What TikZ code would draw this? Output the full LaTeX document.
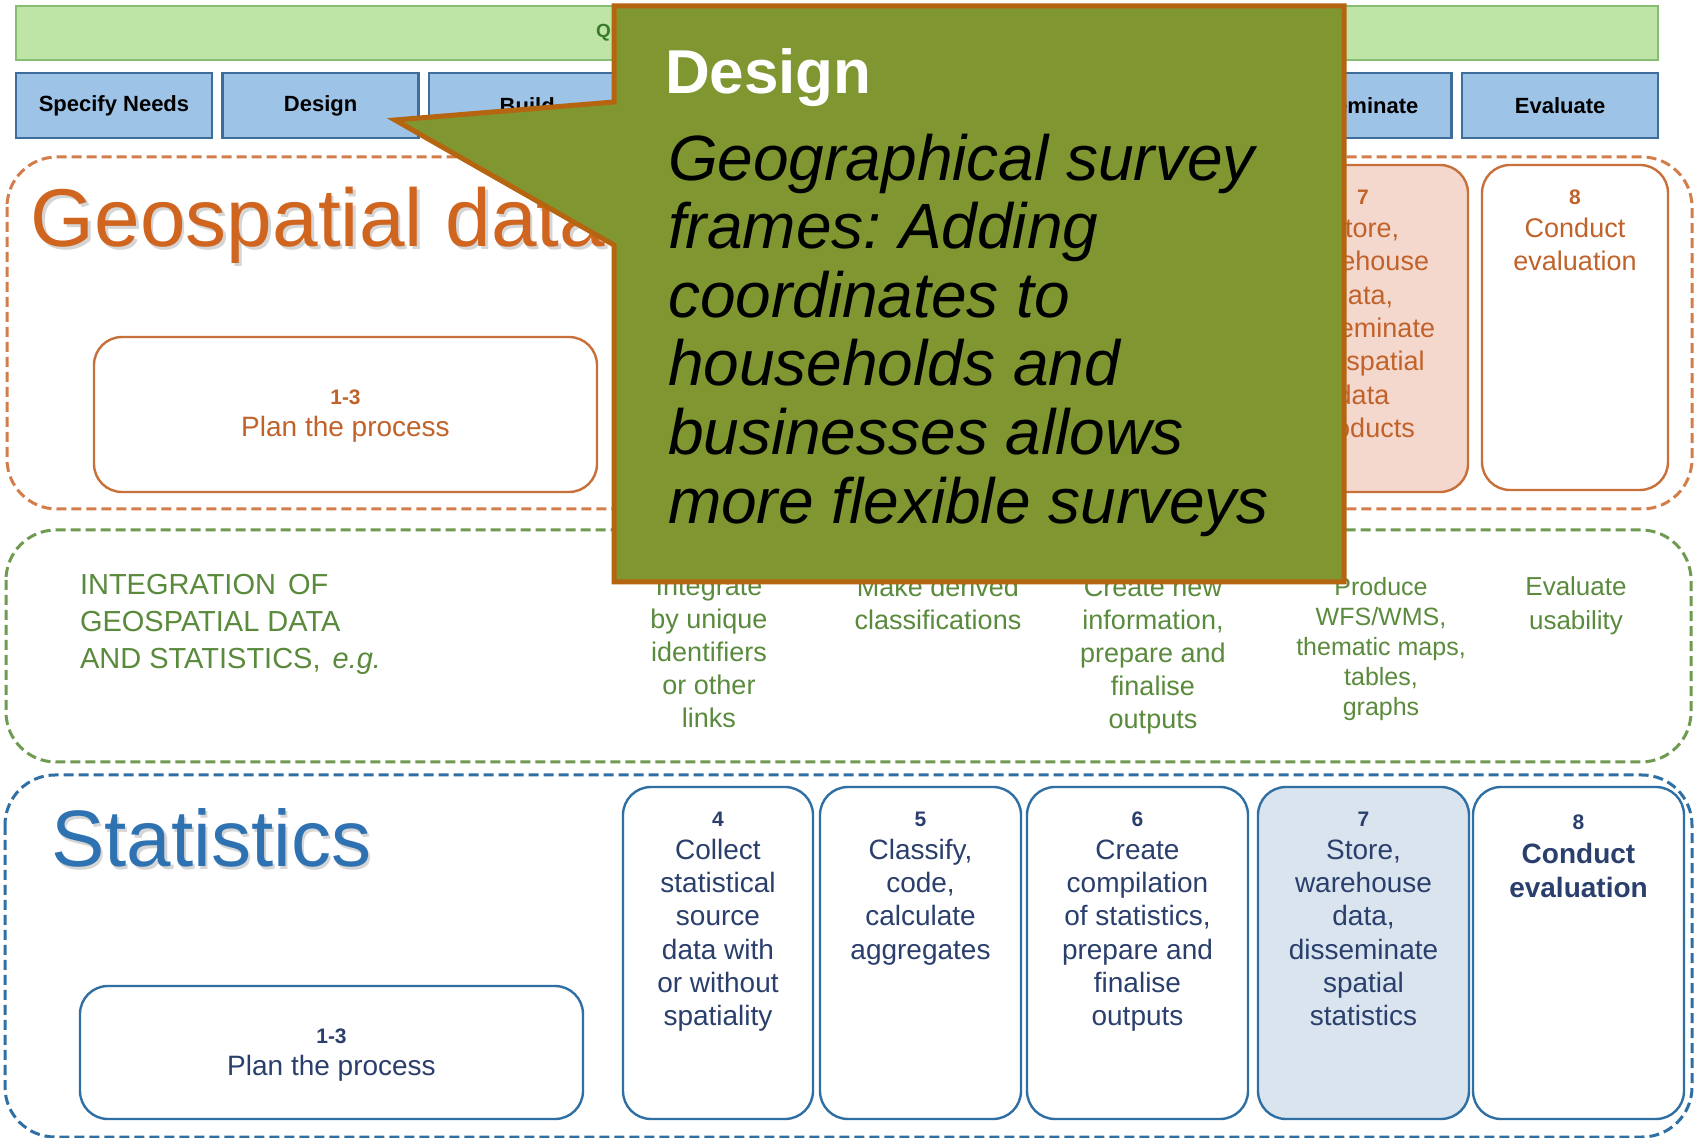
\documentclass[tikz,border=0pt]{standalone}
\usepackage{fontspec}
\setmainfont{Liberation Sans}
\frenchspacing
\newcommand\fsz[2]{\fontsize{#1}{#2}\selectfont}
\newcommand\numf{\bfseries\fontsize{10.5}{12}\selectfont}
\definecolor{geoText}{HTML}{CF651F}
\definecolor{geoLine}{HTML}{C8703A}
\definecolor{geoDash}{HTML}{D27D4A}
\definecolor{geoInner}{HTML}{C0622A}
\definecolor{geoDot}{HTML}{F4D8CE}
\definecolor{greenT}{HTML}{5A8A3C}
\definecolor{greenB}{HTML}{6E9B50}
\definecolor{blueB}{HTML}{2F6FA3}
\definecolor{statT}{HTML}{2E72B2}
\definecolor{navyT}{HTML}{2A3F6C}
\definecolor{statDot}{HTML}{D9E4EF}
\definecolor{phaseF}{HTML}{9DC3E6}
\definecolor{phaseB}{HTML}{3E6D9C}
\definecolor{barF}{HTML}{BEE5A6}
\definecolor{barB}{HTML}{86BD70}
\definecolor{barT}{HTML}{3C7A2C}
\definecolor{calF}{HTML}{7F9631}
\definecolor{calB}{HTML}{B5650F}
\begin{document}
\begin{tikzpicture}[x=0.5pt,y=-0.5pt,
  every node/.style={inner sep=0pt,outer sep=0pt},
  phasebox/.style={draw=phaseB,fill=phaseF,line width=1.2pt,minimum width=98pt,minimum height=32.5pt,font=\bfseries\fsz{11}{13},text=black},
  geodash/.style={draw=geoDash,line width=1.5pt,dash pattern=on 5pt off 2.5pt,rounded corners=25pt},
  greendash/.style={draw=greenB,line width=1.5pt,dash pattern=on 5pt off 2.5pt,rounded corners=25pt},
  bluedash/.style={draw=blueB,line width=1.5pt,dash pattern=on 5pt off 2.5pt,rounded corners=25pt},
  geobox/.style={draw=geoLine,fill=white,line width=1.2pt,rounded corners=14pt},
  statbox/.style={draw=blueB,fill=white,line width=1.2pt,rounded corners=14pt},
  geotext/.style={text=geoInner,font=\fsz{13.5}{16.65},align=center,anchor=north},
  plantext/.style={font=\fsz{14}{16},align=center,anchor=north},
  midtext/.style={text=greenT,font=\fsz{13.5}{16.5},align=center,anchor=north},
  stattext/.style={text=navyT,font=\fsz{14}{16.65},align=center,anchor=north},
  callout/.style={draw=calB,fill=calF,line width=2.5pt,line join=miter}
]
\useasboundingbox (0,0) rectangle (1694,1138);
\fill[white] (0,0) rectangle (1694,1138);

% top bar and phases
\node[draw=barB,fill=barF,line width=1.2pt,minimum width=821pt,minimum height=27pt] (bar) at (837,33) {};
\node[anchor=base west,text=barT,font=\bfseries\fsz{9.5}{11}] (bartext) at (596,38) {Quality Management / Metadata Management};
\node[phasebox] (p1) at (114,105.5) {Specify Needs};
\node[phasebox] (p2) at (320.6,105.5) {Design};
\node[phasebox] (p3) at (527.2,105.5) {Build};
\node[phasebox] (p7) at (1353.6,105.5) {Disseminate};
\node[phasebox] (p8) at (1560.2,105.5) {Evaluate};

% geospatial section
\draw[geodash] (7,157) rectangle (1692,509);
\node[anchor=base west,text=gray!55,opacity=0.6,font=\fsz{41}{46}] (geoshadow) at (33.5,250) {Geospatial data};
\node[anchor=base west,text=geoText,font=\fsz{41}{46}] (geotitle) at (31,247) {Geospatial data};
\node[geobox,minimum width=251.5pt,minimum height=77.5pt] (g13) at (345.5,414.5) {};
\node[plantext,text=geoInner] (g13t) at (345.5,382.6) {\strut{\numf 1-3}\\Plan the process};
\node[geobox,fill=geoDot,minimum width=105pt,minimum height=163.5pt] (g7) at (1363,328.5) {};
\node[geotext] (g7t) at (1363,181) {\strut{\numf 7}\\Store,\\warehouse\\data,\\disseminate\\geospatial\\data\\products};
\node[geobox,minimum width=93pt,minimum height=162.5pt] (g8) at (1575,327.5) {};
\node[geotext,font=\fsz{13.5}{16.5}] (g8t) at (1575,181) {\strut{\numf 8}\\Conduct\\evaluation};

% integration section
\draw[greendash] (6,530) rectangle (1691,762);
\node[anchor=north west,text=greenT,font=\fsz{14.5}{18.5},align=left] (intg) at (80,569) {\strut INTEGRATION\kern2pt\ OF\\GEOSPATIAL DATA\\AND STATISTICS,\kern2pt\ \textit{e.g.}};
\node[midtext] (m4) at (709,572.9) {\strut Integrate\\by unique\\identifiers\\or other\\links};
\node[midtext] (m5) at (938,573.9) {\strut Make derived\\classifications};
\node[midtext] (m6) at (1153,573.9) {\strut Create new\\information,\\prepare and\\finalise\\outputs};
\node[midtext,font=\fsz{12.5}{15}] (m7) at (1381,575) {\strut Produce\\WFS/WMS,\\thematic maps,\\tables,\\graphs};
\node[midtext,font=\fsz{13}{17}] (m8) at (1576,572) {\strut Evaluate\\usability};

% statistics section
\draw[bluedash] (5,775) rectangle (1692,1137);
\node[anchor=base west,text=gray!55,opacity=0.6,font=\fsz{40}{45}] (statshadow) at (53.5,870) {Statistics};
\node[anchor=base west,text=statT,font=\fsz{40}{45}] (stattitle) at (51,867) {Statistics};
\node[statbox,minimum width=251.5pt,minimum height=66.5pt] (s13) at (331.5,1052.5) {};
\node[plantext,text=navyT] (s13t) at (331.5,1020.6) {\strut{\numf 1-3}\\Plan the process};
\node[statbox,minimum width=95pt,minimum height=166pt] (s4) at (718,953) {};
\node[stattext] (s4t) at (718,802.7) {\strut{\numf 4}\\Collect\\statistical\\source\\data with\\or without\\spatiality};
\node[statbox,minimum width=100.5pt,minimum height=166pt] (s5) at (920.5,953) {};
\node[stattext] (s5t) at (920.5,802.7) {\strut{\numf 5}\\Classify,\\code,\\calculate\\aggregates};
\node[statbox,minimum width=110.5pt,minimum height=166pt] (s6) at (1137.5,953) {};
\node[stattext] (s6t) at (1137.5,802.7) {\strut{\numf 6}\\Create\\compilation\\of statistics,\\prepare and\\finalise\\outputs};
\node[statbox,fill=statDot,minimum width=105.5pt,minimum height=166pt] (s7) at (1363.5,953) {};
\node[stattext] (s7t) at (1363.5,802.7) {\strut{\numf 7}\\Store,\\warehouse\\data,\\disseminate\\spatial\\statistics};
\node[statbox,minimum width=105.5pt,minimum height=166pt] (s8) at (1578.5,953) {};
\node[stattext,font=\bfseries\fsz{14}{17}] (s8t) at (1578.5,806.2) {\strut{\numf 8}\\Conduct\\evaluation};

% callout
\draw[callout] (614,6) -- (1344,6) -- (1344,582) -- (614,582) -- (614,245) -- (395,120) -- (614,102) -- cycle;
\node[anchor=base west,text=white,font=\bfseries\fsz{31}{35}] (calhead) at (665,94) {Design};
\node[anchor=north west,text=black,font=\itshape\fsz{32}{34.3},align=left] (calbody) at (668,132) {\strut Geographical survey\\frames: Adding\\coordinates to\\households and\\businesses allows\\more flexible surveys};
\end{tikzpicture}
\end{document}
